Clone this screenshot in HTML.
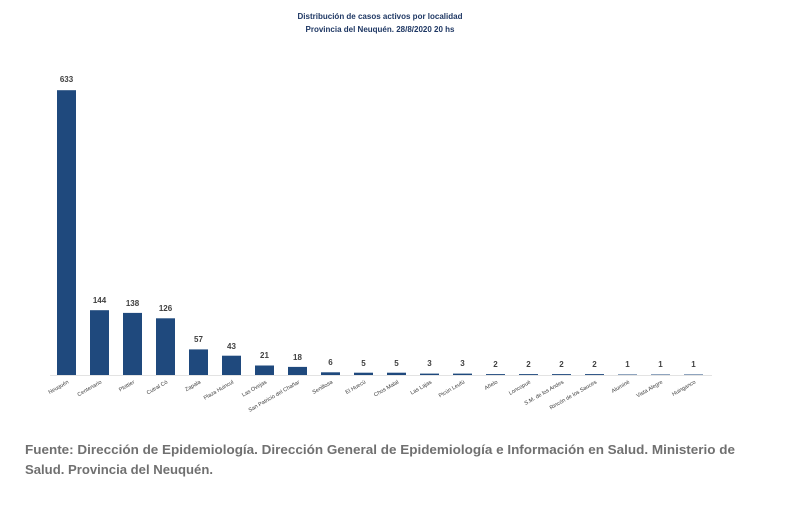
<!DOCTYPE html><html><head><style>body{margin:0;background:#fff}svg{display:block}</style></head><body>
<svg width="791" height="507" xmlns="http://www.w3.org/2000/svg" font-family="Liberation Sans, sans-serif">
<rect width="791" height="507" fill="#fff"/>
<text x="380" y="19" font-size="8" font-weight="bold" fill="#1f3864" text-anchor="middle">Distribución de casos activos por localidad</text>
<text x="380" y="32" font-size="8" font-weight="bold" fill="#1f3864" text-anchor="middle">Provincia del Neuquén.  28/8/2020 20 hs</text>
<line x1="50" y1="375.5" x2="712" y2="375.5" stroke="#e3e3e3" stroke-width="1"/>
<g fill="#1f497d">
<rect x="57" y="90.2" width="19" height="284.8"/>
<rect x="90" y="310.2" width="19" height="64.8"/>
<rect x="123" y="312.9" width="19" height="62.1"/>
<rect x="156" y="318.3" width="19" height="56.7"/>
<rect x="189" y="349.4" width="19" height="25.6"/>
<rect x="222" y="355.7" width="19" height="19.3"/>
<rect x="255" y="365.5" width="19" height="9.5"/>
<rect x="288" y="366.9" width="19" height="8.1"/>
<rect x="321" y="372.3" width="19" height="2.7"/>
<rect x="354" y="372.7" width="19" height="2.3"/>
<rect x="387" y="372.7" width="19" height="2.3"/>
<rect x="420" y="373.6" width="19" height="1.4"/>
<rect x="453" y="373.6" width="19" height="1.4"/>
<rect x="486" y="374.1" width="19" height="0.9"/>
<rect x="519" y="374.1" width="19" height="0.9"/>
<rect x="552" y="374.1" width="19" height="0.9"/>
<rect x="585" y="374.1" width="19" height="0.9"/>
<rect x="618" y="374.5" width="19" height="0.5"/>
<rect x="651" y="374.5" width="19" height="0.5"/>
<rect x="684" y="374.5" width="19" height="0.5"/>
</g>
<g font-size="8" font-weight="bold" fill="#404040" text-anchor="middle">
<text x="66.5" y="82">633</text>
<text x="99.5" y="303">144</text>
<text x="132.5" y="306">138</text>
<text x="165.5" y="311">126</text>
<text x="198.5" y="342">57</text>
<text x="231.5" y="349">43</text>
<text x="264.5" y="358">21</text>
<text x="297.5" y="360">18</text>
<text x="330.5" y="365">6</text>
<text x="363.5" y="366">5</text>
<text x="396.5" y="366">5</text>
<text x="429.5" y="366">3</text>
<text x="462.5" y="366">3</text>
<text x="495.5" y="367">2</text>
<text x="528.5" y="367">2</text>
<text x="561.5" y="367">2</text>
<text x="594.5" y="367">2</text>
<text x="627.5" y="367">1</text>
<text x="660.5" y="367">1</text>
<text x="693.5" y="367">1</text>
</g>
<g font-size="5.5" fill="#404040" text-anchor="end">
<text transform="translate(69,383) rotate(-30)">Neuquén</text>
<text transform="translate(102,383) rotate(-30)">Centenario</text>
<text transform="translate(135,383) rotate(-30)">Plottier</text>
<text transform="translate(168,383) rotate(-30)">Cutral Có</text>
<text transform="translate(201,383) rotate(-30)">Zapala</text>
<text transform="translate(234,383) rotate(-30)">Plaza Huincul</text>
<text transform="translate(267,383) rotate(-30)">Las Ovejas</text>
<text transform="translate(300,383) rotate(-30)">San Patricio del Chañar</text>
<text transform="translate(333,383) rotate(-30)">Senillosa</text>
<text transform="translate(366,383) rotate(-30)">El Huecú</text>
<text transform="translate(399,383) rotate(-30)">Chos Malal</text>
<text transform="translate(432,383) rotate(-30)">Las Lajas</text>
<text transform="translate(465,383) rotate(-30)">Picún Leufú</text>
<text transform="translate(498,383) rotate(-30)">Añelo</text>
<text transform="translate(531,383) rotate(-30)">Loncopué</text>
<text transform="translate(564,383) rotate(-30)">S.M. de los Andes</text>
<text transform="translate(597,383) rotate(-30)">Rincón de los Sauces</text>
<text transform="translate(630,383) rotate(-30)">Aluminé</text>
<text transform="translate(663,383) rotate(-30)">Vista Alegre</text>
<text transform="translate(696,383) rotate(-30)">Huinganco</text>
</g>
<text x="25" y="454" font-size="12.5" font-weight="bold" fill="#707070" textLength="710" lengthAdjust="spacingAndGlyphs">Fuente: Dirección de Epidemiología. Dirección General de Epidemiología e Información en Salud. Ministerio de</text>
<text x="25" y="474" font-size="12.5" font-weight="bold" fill="#707070" textLength="188" lengthAdjust="spacingAndGlyphs">Salud. Provincia del Neuquén.</text>
</svg></body></html>
